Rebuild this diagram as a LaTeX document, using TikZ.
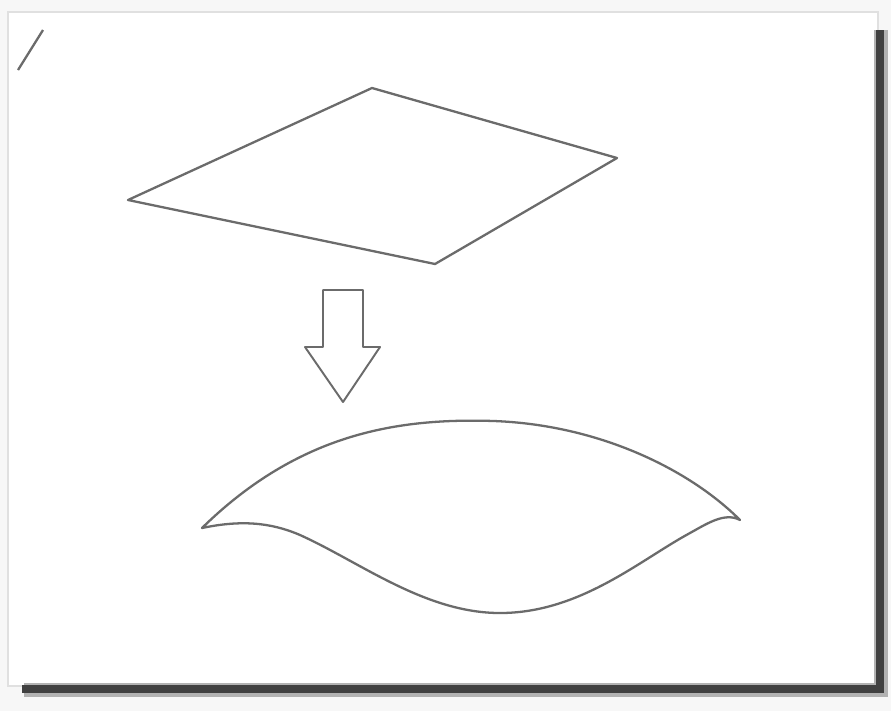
\documentclass[tikz,border=0pt]{standalone}
\begin{document}
\begin{tikzpicture}[x=0.02cm,y=-0.02cm,
  shape line/.style={draw=black!58,line width=1.3pt,line join=round},
  shadow line/.style={draw=black!75,line width=4.5pt}]
\useasboundingbox (0,0) rectangle (891,711);
\fill[black!3] (0,0) rectangle (891,711);
% panel
\filldraw[fill=white,draw=black!12,line width=0.6pt] (8,12) rectangle (878,686);
% shadow
\draw[black!30,line width=8pt] (881,30) -- (881,690) -- (24,690);
\draw[shadow line] (880,30) -- (880,689) -- (22,689);
% small stroke top-left
\draw[shape line] (18,70) -- (43,30);
% rhombus
\draw[shape line] (128,200) -- (372,88) -- (617,158) -- (435,264) -- cycle;
% hollow arrow
\draw[shape line,line width=1.1pt] (323,290) -- (363,290) -- (363,347) -- (380,347) -- (343,402) -- (305,347) -- (323,347) -- cycle;
% leaf shape
\draw[shape line] (202,528) .. controls (300,432) and (400,418) .. (494,421)
  .. controls (600,425) and (690,470) .. (740,520)
  .. controls (725,512) and (708,523) .. (690,533)
  .. controls (640,560) and (580,613) .. (500,613)
  .. controls (425,613) and (360,562) .. (300,535)
  .. controls (270,522) and (240,520) .. (202,528) -- cycle;
\end{tikzpicture}
\end{document}
